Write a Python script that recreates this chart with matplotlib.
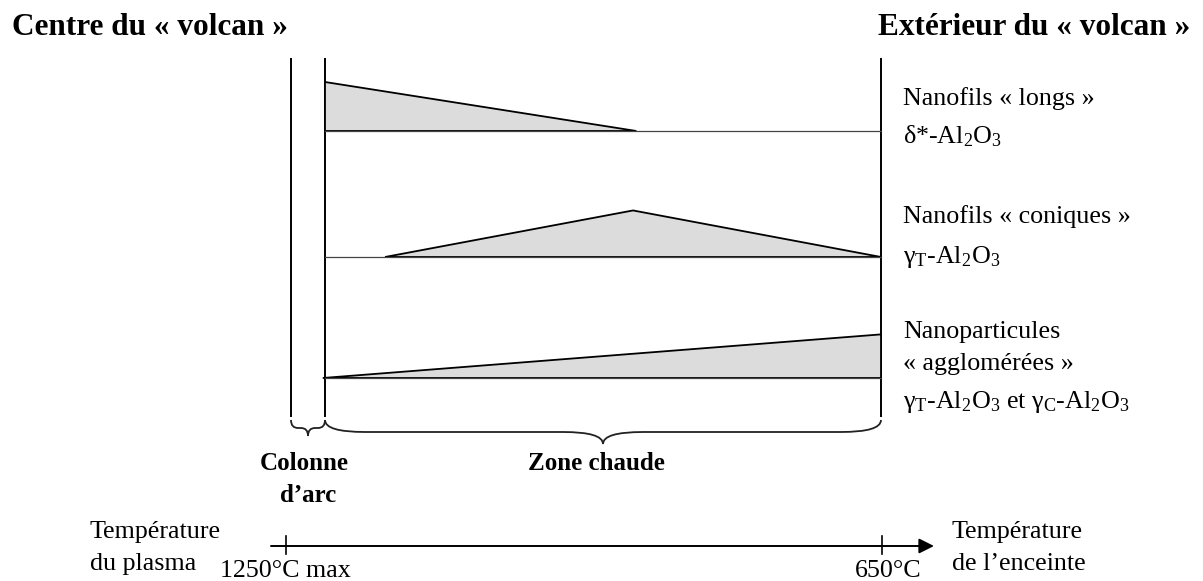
import matplotlib
matplotlib.use("Agg")
import matplotlib.pyplot as plt
from matplotlib.path import Path
from matplotlib.patches import PathPatch, Polygon

plt.rcParams['font.family'] = ['Liberation Serif', 'DejaVu Serif']
plt.rcParams['mathtext.fontset'] = 'custom'
plt.rcParams['mathtext.rm'] = 'Liberation Serif'
plt.rcParams['mathtext.it'] = 'Liberation Serif:italic'
plt.rcParams['mathtext.bf'] = 'Liberation Serif:bold'

# ---------------- data ----------------
# relative abundance profiles along the hot zone (0 = arc column edge, 1 = exterior)
LONGS_X = [0.0, 0.56]
LONGS_Y = [1.0, 0.0]
CONIQUES_X = [0.108, 0.554, 1.0]
CONIQUES_Y = [0.0, 0.95, 0.0]
AGGLO_X = [-0.004, 1.0]
AGGLO_Y = [0.0, 0.89]

SERIES_LABELS = [
    ["Nanofils « longs »", "δ*-Al$_2$O$_3$"],
    ["Nanofils « coniques »", "γ$_\\mathrm{T}$-Al$_2$O$_3$"],
    ["Nanoparticules", "« agglomérées »",
     "γ$_\\mathrm{T}$-Al$_2$O$_3$ et γ$_\\mathrm{C}$-Al$_2$O$_3$"],
]
TEMP_TICK_LABELS = ["1250°C max", "650°C"]
ZONE_LABELS = ["Colonne", "d’arc", "Zone chaude"]
TITLES = ["Centre du « volcan »", "Extérieur du « volcan »"]

# ---------------- layout (pixels) ----------------
W, H = 1203, 581
fig = plt.figure(figsize=(W / 100, H / 100), dpi=100)
ax = fig.add_axes([0, 0, 1, 1])
ax.set_xlim(0, W)
ax.set_ylim(H, 0)
ax.axis('off')

FS = 18.7
X_COL = 291
X_Z0 = 325
X_Z1 = 881
Y_TOP = 58
Y_BOT = 417
BASELINES = [131, 257, 378]
UNIT_PX = 49   # pixel height of relative value 1.0

# vertical lines
for x in (X_COL, X_Z0, X_Z1):
    ax.plot([x, x], [Y_TOP, Y_BOT], color='black', lw=1.4, solid_capstyle='butt')

# bands
profiles = [(LONGS_X, LONGS_Y), (CONIQUES_X, CONIQUES_Y), (AGGLO_X, AGGLO_Y)]
for (px, py), base in zip(profiles, BASELINES):
    bax = fig.add_axes([X_Z0 / W, (H - base) / H, (X_Z1 - X_Z0) / W, UNIT_PX / H])
    bax.set_xlim(0, 1)
    bax.set_ylim(0, 1)
    bax.axis('off')
    bax.patch.set_alpha(0)
    bax.plot([0, 1], [0, 0], color='#444444', lw=0.9, clip_on=False)
    pts = list(zip(px, py))
    if py[0] != 0:
        pts = [(px[0], 0)] + pts
    if py[-1] != 0:
        pts = pts + [(px[-1], 0)]
    poly = Polygon(pts, closed=True, facecolor='#dcdcdc', edgecolor='black',
                   lw=1.3, clip_on=False, joinstyle='miter')
    bax.add_patch(poly)

# series labels
label_baselines = [[105, 143], [223, 263], [338, 370, 408]]
for labs, ys in zip(SERIES_LABELS, label_baselines):
    for t, y in zip(labs, ys):
        ax.text(903, y, t, fontsize=FS, va='baseline', ha='left')

# titles
ax.text(12, 35, TITLES[0], fontsize=22.5, fontweight='bold',
        va='baseline', ha='left')
ax.text(878, 35, TITLES[1], fontsize=22.5, fontweight='bold',
        va='baseline', ha='left')


# braces
def brace(x0, x1, ytop, yflat, ytip, xtip, r):
    verts = [(x0, ytop), (x0, yflat), (x0 + r, yflat),
             (xtip - r, yflat),
             (xtip, yflat), (xtip, ytip),
             (xtip, yflat), (xtip + r, yflat),
             (x1 - r, yflat),
             (x1, yflat), (x1, ytop)]
    codes = [Path.MOVETO, Path.CURVE3, Path.CURVE3,
             Path.LINETO,
             Path.CURVE3, Path.CURVE3,
             Path.CURVE3, Path.CURVE3,
             Path.LINETO,
             Path.CURVE3, Path.CURVE3]
    ax.add_patch(PathPatch(Path(verts, codes), fill=False, edgecolor='#222222', lw=1.3))


brace(X_COL, X_Z0, 420, 428, 436, (X_COL + X_Z0) / 2, 7)
brace(X_Z0, X_Z1, 420, 432, 444, (X_Z0 + X_Z1) / 2, 40)

ax.text(304, 470, ZONE_LABELS[0], fontsize=18, fontweight='bold', ha='center', va='baseline')
ax.text(308, 502, ZONE_LABELS[1], fontsize=18, fontweight='bold', ha='center', va='baseline')
ax.text(596, 470, ZONE_LABELS[2], fontsize=18, fontweight='bold', ha='center', va='baseline')

# temperature axis
Y_AX = 546
ax.annotate("", xy=(934, Y_AX), xytext=(271, Y_AX),
            arrowprops=dict(arrowstyle='-|>,head_length=0.9,head_width=0.45',
                            color='black', lw=1.4, shrinkA=0, shrinkB=0))
TICK_X = [286, 882]
for x in TICK_X:
    ax.plot([x, x], [Y_AX - 10, Y_AX + 8], color='black', lw=1.2)
ax.text(220, 577, TEMP_TICK_LABELS[0], fontsize=FS, ha='left', va='baseline')
ax.text(855, 577, TEMP_TICK_LABELS[1], fontsize=FS, ha='left', va='baseline')
ax.text(90, 538, "Température", fontsize=FS, ha='left', va='baseline')
ax.text(90, 570, "du plasma", fontsize=FS, ha='left', va='baseline')
ax.text(952, 538, "Température", fontsize=FS, ha='left', va='baseline')
ax.text(952, 570, "de l’enceinte", fontsize=FS, ha='left', va='baseline')

fig.savefig("out.png", dpi=100, facecolor='white')
